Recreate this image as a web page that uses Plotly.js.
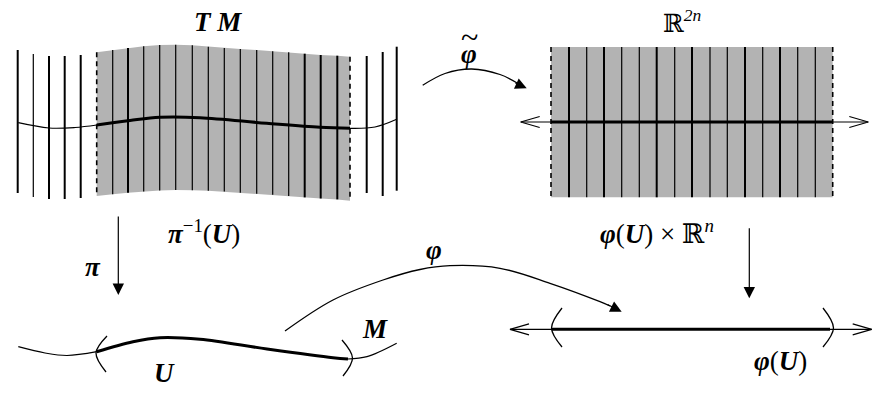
<!DOCTYPE html>
<html>
<head>
<meta charset="utf-8">
<script src="https://cdn.plot.ly/plotly-3.0.1.min.js"></script>
<style>
  html, body { margin: 0; padding: 0; background: #fff; }
  #plot { width: 882px; height: 401px; }
</style>
</head>
<body>
<div id="plot"></div>
<script>
// All positions below are in picture pixels (x right, y down).

// --- TM bundle (left, top) ---
const tmOuterLeftX   = [17.7, 33.3, 49, 64.7, 80.7];
const tmOuterLeftTop = [50, 54, 56, 56, 55];
const tmOuterLeftBot = [193, 197, 199, 199, 198];
const tmOuterLeftW   = [2, 1.2, 2, 2, 2];

const tmOuterRightX   = [366.7, 382.7, 396.7];
const tmOuterRightTop = [56, 52, 46.7];
const tmOuterRightBot = [193, 196, 190.7];
const tmOuterRightW   = [2, 2, 2];

// fibres over the gray patch (first and last are the dashed edges)
const tmFibreX   = [96.7, 112.7, 128, 143.7, 159.7, 175.7, 192.3, 208.3, 224.3, 240.3, 256.7, 272.7, 288.7, 304.7, 320.7, 337.3, 350];
const tmFibreTop = [52.3, 50, 48, 46.3, 45, 44.7, 45.3, 46.7, 48, 49, 50, 51.3, 52.3, 53.7, 55, 55.7, 56.7];
const tmFibreBot = [196, 194.3, 192.7, 191.5, 190.6, 190, 190.2, 190.7, 191.6, 192.7, 193.7, 194.8, 196, 197.4, 198.5, 199.4, 200.7];
const tmFibreW   = [1.6, 1.2, 2, 1.2, 1.2, 1.2, 1.2, 1.2, 1.2, 1.2, 1.2, 1.2, 1.2, 2, 2, 2, 1.6];
const tmFibreDash = [true, false, false, false, false, false, false, false, false, false, false, false, false, false, false, false, true];

const tmSectionLeftX  = [18.3, 49, 75, 96.7];
const tmSectionLeftY  = [122.7, 128, 127.5, 125];
const tmSectionMidX   = [96.7, 130, 160, 200, 266.7, 320, 350];
const tmSectionMidY   = [125, 120.5, 117.3, 117.7, 123.3, 127.3, 128.3];
const tmSectionRightX = [350, 375, 396.7];
const tmSectionRightY = [128.3, 127, 119.3];

// --- R^2n block (right, top) ---
const rnLeft = 551, rnRight = 832.7, rnTop = 47, rnBot = 197.3, rnAxisY = 122;
const rnFiberX = [569, 586.7, 604, 621.7, 639.3, 656.7, 674.7, 692, 710, 727.3, 745, 762.7, 780, 797.7, 815.3];
const rnFiberW = [2, 1.2, 2, 1.2, 1.2, 2, 1.2, 2, 1.2, 1.2, 2, 1.2, 2, 1.2, 1.2];
const rnAxisX  = [520.7, 868.3];

// --- M (left, bottom) ---
const mLeftX  = [18.3, 45, 67, 96.7];
const mLeftY  = [346.7, 353, 355.5, 351.7];
const mMidX   = [96.7, 133, 160, 200, 267, 333, 348];
const mMidY   = [351.7, 341.7, 337.7, 339.3, 349, 357.7, 359];
const mRightX = [348, 367, 396.7];
const mRightY = [359, 356.7, 343.3];
const mParenL = {x: [107, 96, 106], y: [336, 353, 372]};
const mParenR = {x: [342, 352.5, 343], y: [340, 358, 376]};

// --- phi(U) line (right, bottom) ---
const luY = 329.3;
const luAxisX = [510, 871.7];
const luThickX = [551.7, 830];
const luParenL = {x: [562, 551.5, 562], y: [308, 328, 347]};
const luParenR = {x: [823, 833.5, 823], y: [308, 328, 347]};

// --- maps ---
const tildeArcX = [422.7, 445, 471.7, 500, 518];
const tildeArcY = [85.3, 73.5, 69, 74.5, 83.5];
const phiArcX = [285, 333, 383, 420, 450, 500, 550, 600, 610];
const phiArcY = [331, 300, 280, 269.5, 265.7, 268.3, 283.3, 301.7, 306];

const piArrow  = {x: 118.3, y0: 215, y1: 295};
const prArrow  = {x: 749.3, y0: 226.7, y1: 298.3};

// ---------------------------------------------------------------
const black = "#000";
const gray = "#b3b3b3";
const traces = [];

function seg(x, y, w, dash, shape) {
    traces.push({
        type: "scatter", mode: "lines", x: x, y: y, hoverinfo: "skip",
        line: {color: black, width: w, dash: dash || "solid", shape: shape || "linear", smoothing: 1}
    });
}

// gray patch under TM fibres, bounded by the fibre ends
traces.push({
    type: "scatter", mode: "lines", hoverinfo: "skip",
    x: tmFibreX.concat(tmFibreX.slice().reverse()),
    y: tmFibreTop.concat(tmFibreBot.slice().reverse()),
    fill: "toself", fillcolor: gray, line: {width: 0, color: gray}
});

// gray block R^2n
traces.push({
    type: "scatter", mode: "lines", hoverinfo: "skip",
    x: [rnLeft, rnRight, rnRight, rnLeft, rnLeft],
    y: [rnTop, rnTop, rnBot, rnBot, rnTop],
    fill: "toself", fillcolor: gray, line: {width: 0, color: gray}
});

tmOuterLeftX.forEach((x, i) => seg([x, x], [tmOuterLeftTop[i], tmOuterLeftBot[i]], tmOuterLeftW[i]));
tmOuterRightX.forEach((x, i) => seg([x, x], [tmOuterRightTop[i], tmOuterRightBot[i]], tmOuterRightW[i]));
tmFibreX.forEach((x, i) => seg([x, x], [tmFibreTop[i], tmFibreBot[i]], tmFibreW[i], tmFibreDash[i] ? "5px,4px" : null));

seg(tmSectionLeftX, tmSectionLeftY, 1.2, null, "spline");
seg(tmSectionMidX, tmSectionMidY, 3, null, "spline");
seg(tmSectionRightX, tmSectionRightY, 1.2, null, "spline");

rnFiberX.forEach((x, i) => seg([x, x], [rnTop, rnBot], rnFiberW[i]));
seg([rnLeft, rnLeft], [rnTop, rnBot], 1.6, "5px,4px");
seg([rnRight, rnRight], [rnTop, rnBot], 1.6, "5px,4px");
seg(rnAxisX, [rnAxisY, rnAxisY], 1.2);
seg([rnLeft, rnRight], [rnAxisY, rnAxisY], 3);

// open heads "<" and ">"
function openHeads(x0, x1, y) {
    seg([x0 + 19, x0, x0 + 19], [y - 5.5, y, y + 5.5], 1.2);
    seg([x1 - 19, x1, x1 - 19], [y - 5.5, y, y + 5.5], 1.2);
}
openHeads(rnAxisX[0], rnAxisX[1], rnAxisY);

// M
seg(mLeftX, mLeftY, 1.2, null, "spline");
seg(mMidX, mMidY, 3, null, "spline");
seg(mRightX, mRightY, 1.2, null, "spline");
seg(mParenL.x, mParenL.y, 1.3, null, "spline");
seg(mParenR.x, mParenR.y, 1.3, null, "spline");

// phi(U)
seg(luAxisX, [luY, luY], 1.2);
seg(luThickX, [luY, luY], 3);
openHeads(luAxisX[0], luAxisX[1], luY);
seg(luParenL.x, luParenL.y, 1.3, null, "spline");
seg(luParenR.x, luParenR.y, 1.3, null, "spline");

// curved maps
seg(tildeArcX, tildeArcY, 1.3, null, "spline");
seg(phiArcX, phiArcY, 1.3, null, "spline");

// ---------------------------------------------------------------
const serif = "Liberation Serif, DejaVu Serif, serif";
function label(x, y, text, size) {
    return {x: x, y: y, xref: "x", yref: "y", text: text, showarrow: false,
            font: {family: serif, size: size || 27, color: black},
            xanchor: "center", yanchor: "middle"};
}
function arrow(x, y, ax, ay) {
    return {x: x, y: y, ax: ax, ay: ay, xref: "x", yref: "y", axref: "x", ayref: "y",
            text: "", showarrow: true, arrowhead: 2, arrowsize: 1.9, arrowwidth: 1.2,
            arrowcolor: black, standoff: 0, startstandoff: 0};
}

const annotations = [
    label(218, 22, "<b><i>T M</i></b>", 27),
    label(682, 21, "ℝ<sup><i>2n</i></sup>", 25),
    label(469, 54, "<b><i>φ</i></b>", 27),
    label(469, 37, "~", 32),
    label(204, 232, "<b><i>π</i></b><sup>−1</sup>(<b><i>U</i></b>)", 27),
    label(93, 267, "<b><i>π</i></b>", 27),
    label(657, 232, "<b><i>φ</i></b>(<b><i>U</i></b>) × ℝ<sup><i>n</i></sup>", 27),
    label(434, 250, "<b><i>φ</i></b>", 27),
    label(375, 329, "<b><i>M</i></b>", 27),
    label(164, 373, "<b><i>U</i></b>", 27),
    label(780, 361, "<b><i>φ</i></b>(<b><i>U</i></b>)", 27),
    arrow(piArrow.x, piArrow.y1, piArrow.x, piArrow.y0),
    arrow(prArrow.x, prArrow.y1, prArrow.x, prArrow.y0),
    arrow(526.7, 88.3, 514, 82.5),
    arrow(621.7, 311.7, 606, 303.8)
];

const layout = {
    width: 882, height: 401,
    margin: {l: 0, r: 0, t: 0, b: 0},
    paper_bgcolor: "#fff", plot_bgcolor: "#fff",
    showlegend: false,
    xaxis: {range: [0, 882], visible: false, fixedrange: true},
    yaxis: {range: [401, 0], visible: false, fixedrange: true},
    annotations: annotations
};

Plotly.newPlot("plot", traces, layout, {staticPlot: true});
</script>
</body>
</html>
